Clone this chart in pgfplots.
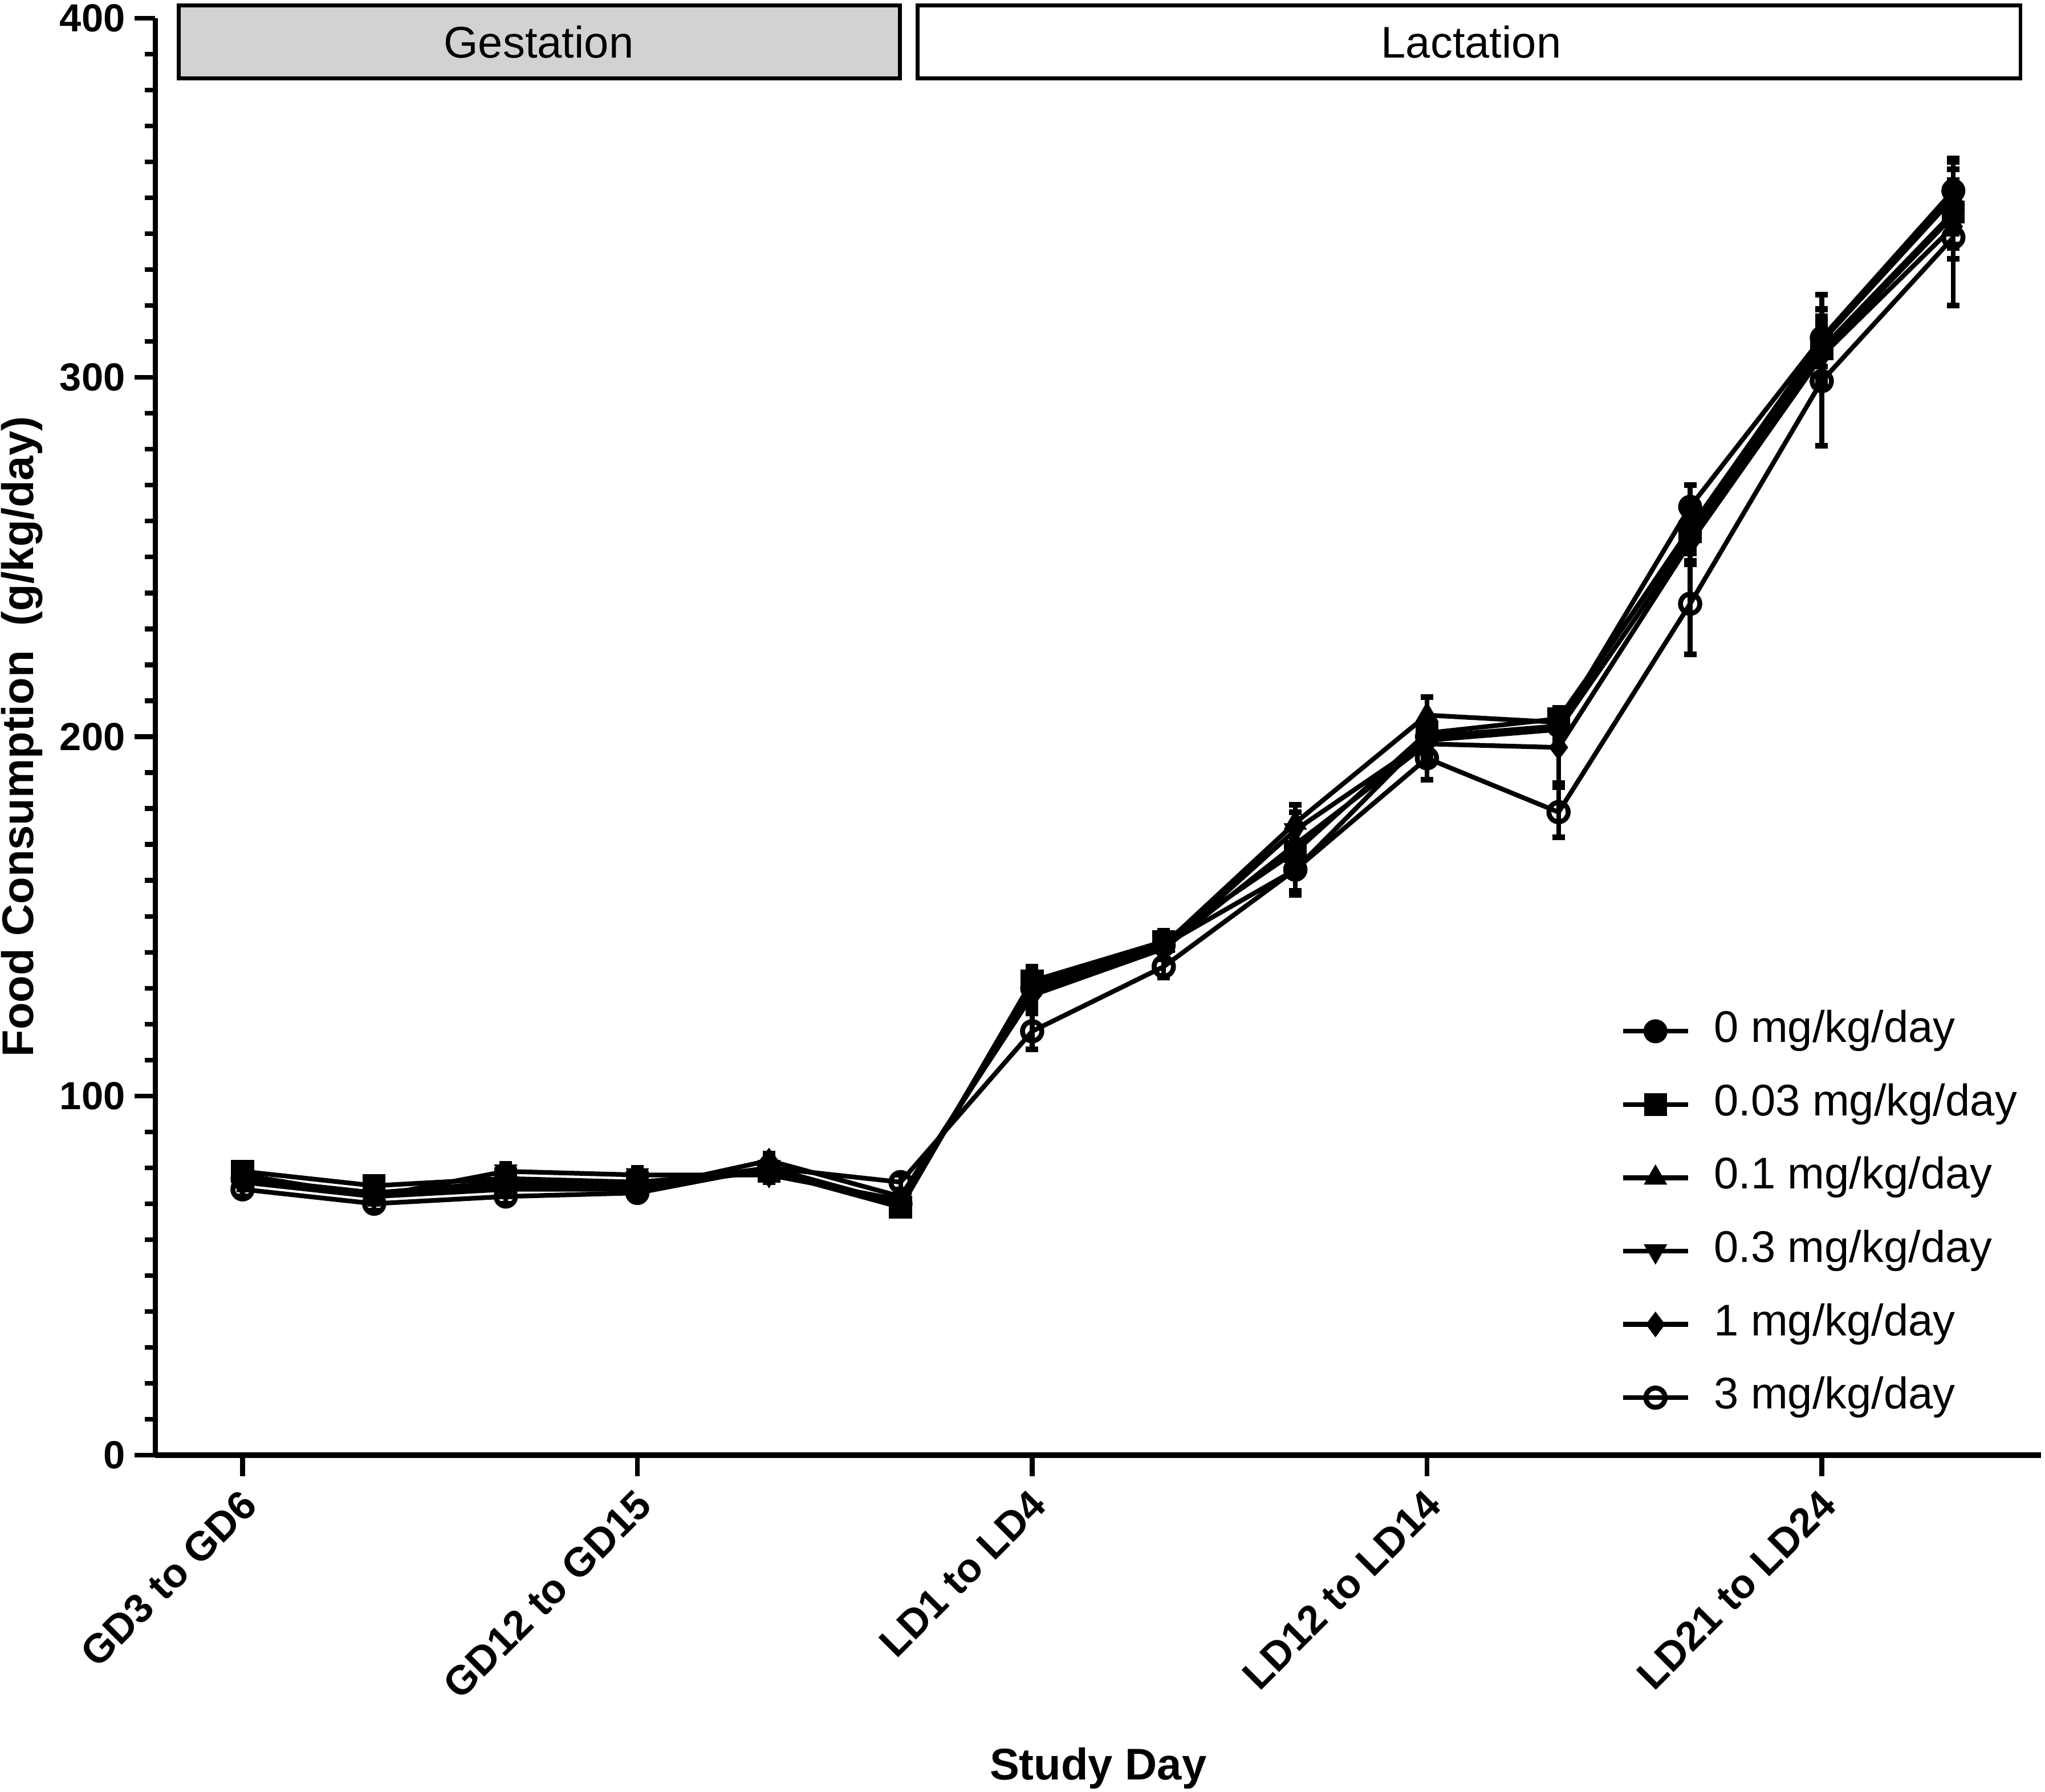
\documentclass[border=0pt]{standalone}
\usepackage{fontspec}
\setmainfont{Liberation Sans}
\usepackage{pgfplots}
\pgfplotsset{compat=1.18}
\usepackage{pgfplotstable}

% 0 mg/kg/day
\pgfplotstableread{
x y e
0 77 2
1 73 2
2 76 2
3 75 2
4 79 2
5 70 2
6 130 4
7 142 3
8 163 6
9 200 5
10 203 3
11 264 6
12 311 8
13 352 9
}\tA
% 0.03 mg/kg/day
\pgfplotstableread{
x y e
0 79 2
1 75 2
2 77 2
3 76 2
4 79 2
5 69 2
6 132 4
7 143 3
8 168 6
9 201 5
10 205 3
11 257 6
12 308 8
13 346 9
}\tB
% 0.1 mg/kg/day
\pgfplotstableread{
x y e
0 77 2
1 73 2
2 75 2
3 75 2
4 80 2
5 70 2
6 131 4
7 142 3
8 176 5
9 206 5
10 204 3
11 258 6
12 310 13
13 350 10
}\tC
% 0.3 mg/kg/day
\pgfplotstableread{
x y e
0 78 2
1 72 2
2 79 2
3 78 2
4 78 2
5 71 2
6 129 4
7 141 3
8 174 5
9 199 5
10 202 3
11 255 6
12 307 8
13 345 9
}\tD
% 1 mg/kg/day
\pgfplotstableread{
x y e
0 76 2
1 72 2
2 74 2
3 74 2
4 82 2
5 72 2
6 128 4
7 141 3
8 170 5
9 198 5
10 197 10
11 254 6
12 306 8
13 342 9
}\tE
% 3 mg/kg/day
\pgfplotstableread{
x y e
0 74 2
1 70 2
2 72 2
3 73 2
4 80 2
5 76 2
6 118 5
7 136 3
8 163 7
9 194 6
10 179 7
11 237 14
12 299 18
13 339 19
}\tF

\begin{document}
\begin{tikzpicture}
\begin{axis}[
  scale only axis, width=723pt, height=551pt,
  xmin=-0.664, xmax=13.667, ymin=0, ymax=400,
  axis x line*=bottom, axis y line*=left,
  axis line style={line width=2pt, black},
  clip=false,
  xtick={0,3,6,9,12},
  xticklabels={GD3 to GD6, GD12 to GD15, LD1 to LD4, LD12 to LD14, LD21 to LD24},
  ytick={0,100,200,300,400},
  minor y tick num=9,
  tick align=outside,
  major tick length=8pt,
  minor tick length=4pt,
  every tick/.style={line width=1.8pt, black},
  /pgf/number format/assume math mode=true,
  x tick label style={font=\bfseries\fontsize{15.6}{18}\selectfont, rotate=45, anchor=north east, inner sep=2pt, xshift=-2pt},
  y tick label style={font=\bfseries\fontsize{15}{18}\selectfont},
  xlabel={Study Day},
  ylabel={Food Consumption~ (g/kg/day)},
  label style={font=\bfseries\fontsize{17}{20}\selectfont},
  xlabel style={at={(axis description cs:0.5,0)}, anchor=center, yshift=-120pt},
  ylabel style={at={(axis description cs:-0.0705,0.5)}, anchor=center},
  legend style={at={(rel axis cs:0.7767,0.3085)}, anchor=north west, draw=none, fill=none,
    inner sep=0pt, row sep=13.6pt, font=\fontsize{17}{19}\selectfont,
    nodes={inner sep=0pt, text height=11.5pt, text depth=3pt},
    /tikz/every odd column/.append style={column sep=9pt}},
  legend cell align=left,
  legend image code/.code={\draw[mark repeat=2,mark phase=2] plot coordinates {(0pt,0pt) (12.5pt,0pt) (25pt,0pt)};},
  error bars/y dir=both, error bars/y explicit,
  error bars/error bar style={line width=1.8pt, solid},
  error bars/error mark options={rotate=90, line width=2.2pt, mark size=2.4pt},
  every axis plot/.append style={black, line width=1.8pt},
]
\addplot[mark=*, mark size=4.4pt, mark options={solid, line width=0.4pt}] table[x=x,y=y,y error=e]{\tA};
\addlegendentry{0 mg/kg/day}
\addplot[mark=square*, mark size=4.2pt, mark options={solid, line width=0.4pt}] table[x=x,y=y,y error=e]{\tB};
\addlegendentry{0.03 mg/kg/day}
\addplot[mark=triangle*, mark size=4.8pt, mark options={solid, line width=0.4pt}] table[x=x,y=y,y error=e]{\tC};
\addlegendentry{0.1 mg/kg/day}
\addplot[mark=triangle*, mark size=4.8pt, mark options={solid, rotate=180, line width=0.4pt}] table[x=x,y=y,y error=e]{\tD};
\addlegendentry{0.3 mg/kg/day}
\addplot[mark=diamond*, mark size=4.6pt, mark options={solid, line width=0.4pt}] table[x=x,y=y,y error=e]{\tE};
\addlegendentry{1 mg/kg/day}
\addplot[mark=o, mark size=3.7pt, mark options={solid, line width=1.9pt}] table[x=x,y=y,y error=e]{\tF};
\addlegendentry{3 mg/kg/day}

\draw[line width=1.5pt, fill=gray!35] (axis cs:-0.486,383.3) rectangle (axis cs:4.995,403.6);
\node[font=\fontsize{17}{19}\selectfont] at (axis cs:2.25,393.4) {Gestation};
\draw[line width=1.5pt, fill=white] (axis cs:5.13,383.3) rectangle (axis cs:13.51,403.6);
\node[font=\fontsize{17}{19}\selectfont] at (axis cs:9.336,393.4) {Lactation};
\end{axis}
\pgfresetboundingbox
\path (-59.5pt,-129pt) rectangle (724.5pt,558pt);
\end{tikzpicture}
\end{document}
